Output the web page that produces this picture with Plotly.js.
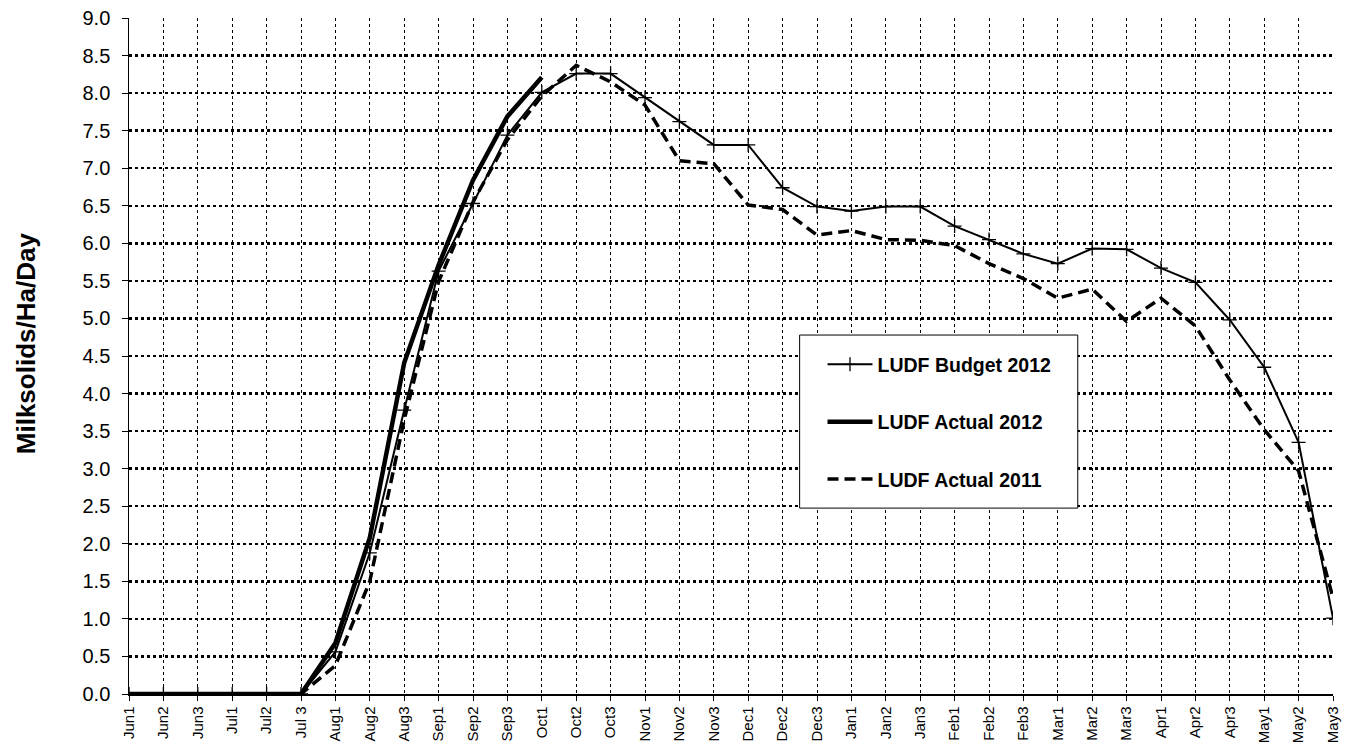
<!DOCTYPE html>
<html>
<head>
<meta charset="utf-8">
<script src="https://cdn.plot.ly/plotly-3.0.1.min.js"></script>
<style>html,body{margin:0;padding:0;background:#fff}#chart{width:1357px;height:747px}</style>
</head>
<body>
<div id="chart"></div>
<script>
var categories = ["Jun1","Jun2","Jun3","Jul1","Jul2","Jul 3","Aug1","Aug2","Aug3","Sep1","Sep2","Sep3",
  "Oct1","Oct2","Oct3","Nov1","Nov2","Nov3","Dec1","Dec2","Dec3","Jan1","Jan2","Jan3",
  "Feb1","Feb2","Feb3","Mar1","Mar2","Mar3","Apr1","Apr2","Apr3","May1","May2","May3"];

var budget2012 = [0,0,0,0,0,0,0.56,1.88,3.78,5.63,6.53,7.44,
  8.01,8.26,8.26,7.94,7.62,7.31,7.31,6.74,6.49,6.43,6.49,6.49,
  6.23,6.05,5.86,5.73,5.93,5.92,5.67,5.48,4.98,4.35,3.35,1.01];

var actual2012 = [0,0,0,0,0,0,0.68,2.08,4.41,5.71,6.84,7.69,
  8.21,null,null,null,null,null,null,null,null,null,null,null,
  null,null,null,null,null,null,null,null,null,null,null,null];

var actual2011 = [0,0,0,0,0,0,0.38,1.5,3.65,5.49,6.55,7.38,
  7.96,8.37,8.15,7.84,7.1,7.06,6.51,6.45,6.11,6.17,6.05,6.04,
  5.97,5.73,5.53,5.27,5.39,4.96,5.27,4.9,4.18,3.52,2.97,1.28];

var yTicks = [0,0.5,1,1.5,2,2.5,3,3.5,4,4.5,5,5.5,6,6.5,7,7.5,8,8.5,9];
var yTickText = yTicks.map(function(v){return v.toFixed(1) + "\u00a0\u200a";});
var yTitle = "Milksolids/Ha/Day";

var traces = [
  {x: categories, y: budget2012, name: "LUDF Budget 2012", type: "scatter", mode: "lines+markers",
   line: {color: "#000", width: 2}, legendgroup: "a",
   marker: {symbol: "cross-thin", size: 10, color: "#000", line: {color: "#000", width: 1.3}}},
  {x: categories, y: actual2012, name: "LUDF Actual 2012", type: "scatter", mode: "lines",
   line: {color: "#000", width: 4.5}, legendgroup: "b", connectgaps: false},
  {x: categories, y: actual2011, name: "LUDF Actual 2011", type: "scatter", mode: "lines",
   line: {color: "#000", width: 3.5, dash: "11px,6px"}, legendgroup: "c"}
];

var layout = {
  width: 1357, height: 747,
  margin: {l: 129, r: 24, t: 18, b: 53},
  paper_bgcolor: "#fff", plot_bgcolor: "#fff",
  font: {family: "Arial, Liberation Sans, sans-serif", color: "#000"},
  showlegend: true,
  legend: {
    x: 0.576, y: 0.516, xanchor: "left", yanchor: "top",
    bgcolor: "rgba(0,0,0,0)", borderwidth: 0,
    font: {size: 19.5, family: "Arial, Liberation Sans, sans-serif", weight: "bold"},
    tracegroupgap: 29, itemwidth: 45
  },
  shapes: [{
    type: "rect", xref: "paper", yref: "paper", layer: "above",
    x0: 0.557, x1: 0.788, y0: 0.275, y1: 0.531,
    line: {color: "#000", width: 1}, fillcolor: "#fff"
  }],
  annotations: [{
    text: yTitle, xref: "paper", yref: "paper", x: -0.0855, y: 0.519,
    xanchor: "center", yanchor: "middle", textangle: -90, showarrow: false,
    font: {size: 26, weight: "bold", family: "Arial, Liberation Sans, sans-serif"}
  }],
  xaxis: {
    type: "category", range: [0, 35], tickangle: -90,
    tickfont: {size: 15}, showline: true, linecolor: "#000", linewidth: 1.5,
    ticks: "outside", ticklen: 5, tickcolor: "#000",
    showgrid: true, gridcolor: "#000", gridwidth: 1, griddash: "dot",
    zeroline: false, fixedrange: true
  },
  yaxis: {
    range: [0, 9], tickvals: yTicks, ticktext: yTickText,
    tickfont: {size: 20}, showline: true, linecolor: "#000", linewidth: 1.5,
    ticks: "outside", ticklen: 6, tickcolor: "#000",
    showgrid: true, gridcolor: "#000", gridwidth: 2.5, griddash: "dot",
    zeroline: false, fixedrange: true
  }
};

Plotly.newPlot("chart", traces, layout, {displayModeBar: false, staticPlot: true});
</script>
</body>
</html>
